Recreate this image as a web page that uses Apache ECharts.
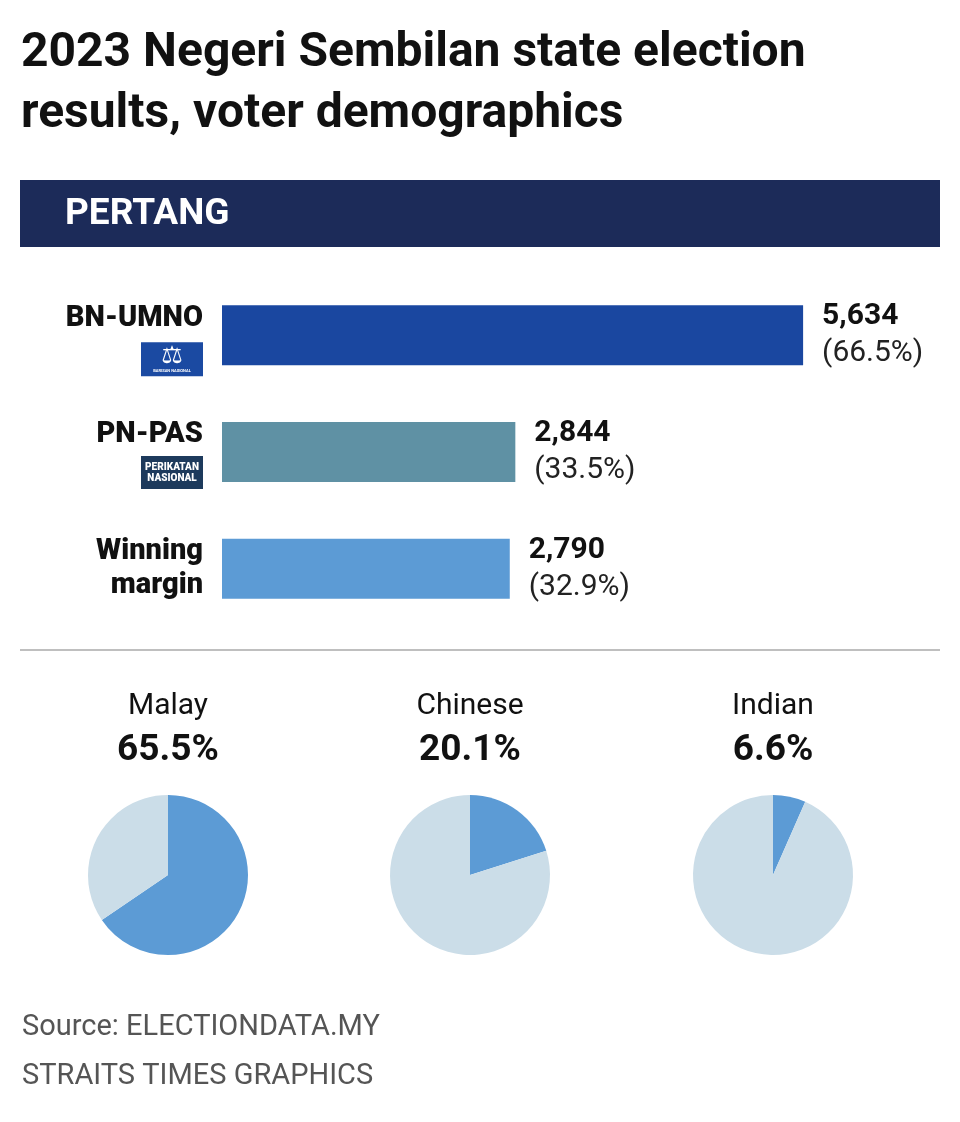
<!DOCTYPE html>
<html>
<head>
<meta charset="utf-8">
<script src="https://cdn.jsdelivr.net/npm/echarts@6/dist/echarts.min.js"></script>
<style>
html,body{margin:0;padding:0;background:#fff;}
#main{width:960px;height:1122px;}
</style>
</head>
<body>
<div id="main"></div>
<script>
// bar data
var parties = ['BN-UMNO', 'PN-PAS', 'Winning margin'];
var votes = [5634, 2844, 2790];
var shares = ['66.5%', '33.5%', '32.9%'];
var barColors = ['#1a47a0', '#5f91a4', '#5c9bd5'];

// demographics
var groups = ['Malay', 'Chinese', 'Indian'];
var groupPct = [65.5, 20.1, 6.6];
var pieX = [168, 470, 773];

var font = 'Roboto';
var myChart = echarts.init(document.getElementById('main'));

function fmtNum(v) {
    return v.toString().replace(/\B(?=(\d{3})+(?!\d))/g, ',');
}

var series = [{
    type: 'bar',
    barWidth: 60,
    silent: true,
    data: votes.map(function (v, i) {
        return {value: v, itemStyle: {color: barColors[i]}};
    }),
    label: {
        show: true,
        position: 'right',
        distance: 19,
        formatter: function (p) {
            return '{v|' + fmtNum(p.value) + '}\n{p|(' + shares[p.dataIndex] + ')}';
        },
        rich: {
            v: {fontFamily: font, fontWeight: 'bold', fontSize: 30, color: '#111', lineHeight: 37},
            p: {fontFamily: font, fontSize: 30, color: '#222', lineHeight: 37}
        }
    }
}];

// pies
var graphics = [];
for (var i = 0; i < groups.length; i++) {
    series.push({
        type: 'pie',
        silent: true,
        center: [pieX[i], 875],
        radius: 80,
        startAngle: 90,
        clockwise: true,
        label: {show: false},
        labelLine: {show: false},
        data: [
            {value: groupPct[i], itemStyle: {color: '#5c9bd5'}},
            {value: 100 - groupPct[i], itemStyle: {color: '#cbdde8'}}
        ]
    });
    graphics.push({
        type: 'text', x: pieX[i], y: 706,
        style: {text: groups[i], fill: '#111', font: '30px ' + font, textAlign: 'center', textVerticalAlign: 'middle'}
    });
    graphics.push({
        type: 'text', x: pieX[i], y: 751,
        style: {text: groupPct[i].toFixed(1) + '%', fill: '#111', font: 'bold 37px ' + font, textAlign: 'center', textVerticalAlign: 'middle'}
    });
}

graphics = graphics.concat([
    {type: 'text', x: 21, y: 54, style: {text: '2023 Negeri Sembilan state election', fill: '#111', font: 'bold 48px ' + font, textVerticalAlign: 'middle'}},
    {type: 'text', x: 21, y: 115, style: {text: 'results, voter demographics', fill: '#111', font: 'bold 48px ' + font, textVerticalAlign: 'middle'}},
    {type: 'rect', shape: {x: 20, y: 180, width: 920, height: 67}, style: {fill: '#1c2b59'}},
    {type: 'text', x: 65, y: 215, style: {text: 'PERTANG', fill: '#fff', font: 'bold 37px ' + font, textVerticalAlign: 'middle'}},
    {type: 'line', shape: {x1: 20, y1: 650, x2: 940, y2: 650}, style: {stroke: '#aaaaaa', lineWidth: 1.5}},
    {type: 'text', x: 22, y: 1028, style: {text: 'Source: ELECTIONDATA.MY', fill: '#555', font: '29px ' + font, textVerticalAlign: 'middle'}},
    {type: 'text', x: 22, y: 1077, style: {text: 'STRAITS TIMES GRAPHICS', fill: '#555', font: '29px ' + font, textVerticalAlign: 'middle'}}
]);

var option = {
    backgroundColor: '#fff',
    animation: false,
    grid: {left: 222, top: 277, height: 350, width: 722},
    xAxis: {
        type: 'value', min: 0, max: 7000, show: false
    },
    yAxis: {
        type: 'category',
        inverse: true,
        data: parties,
        axisLine: {show: false},
        axisTick: {show: false},
        axisLabel: {
            margin: 19,
            align: 'right',
            formatter: function (v) {
                if (v === 'Winning margin') return '{n|Winning}\n{n|margin}';
                return '{n|' + v + '}\n{sp|}';
            },
            rich: {
                n: {fontFamily: font, fontWeight: 900, fontSize: 29, color: '#111', lineHeight: 34, align: 'right'},
                sp: {height: 34, lineHeight: 34}
            }
        }
    },
    graphic: graphics,
    series: series
};

myChart.setOption(option);

// party logos under the party names
var yBN = myChart.convertToPixel({yAxisIndex: 0}, 'BN-UMNO');
var yPN = myChart.convertToPixel({yAxisIndex: 0}, 'PN-PAS');
graphics.push({
    type: 'group', x: 141, y: yBN + 7,
    children: [
        {type: 'rect', shape: {x: 0, y: 0, width: 62, height: 34}, style: {fill: '#1b4aa2'}},
        {type: 'text', x: 31, y: 14, style: {text: '⚖', fill: '#fff', font: '24px "DejaVu Sans"', textAlign: 'center', textVerticalAlign: 'middle'}},
        {type: 'text', x: 31, y: 29, style: {text: 'BARISAN NASIONAL', fill: '#fff', font: 'bold 4px ' + font, textAlign: 'center', textVerticalAlign: 'middle'}}
    ]
});
graphics.push({
    type: 'group', x: 141, y: yPN + 4,
    children: [
        {type: 'rect', shape: {x: 0, y: 0, width: 62, height: 33}, style: {fill: '#1d3a5c'}},
        {type: 'text', x: 31, y: 11, style: {text: 'PERIKATAN', fill: '#fff', font: '900 10px ' + font, textAlign: 'center', textVerticalAlign: 'middle'}},
        {type: 'text', x: 31, y: 22, style: {text: 'NASIONAL', fill: '#fff', font: '900 10px ' + font, textAlign: 'center', textVerticalAlign: 'middle'}}
    ]
});
myChart.setOption({graphic: graphics});
</script>
</body>
</html>
